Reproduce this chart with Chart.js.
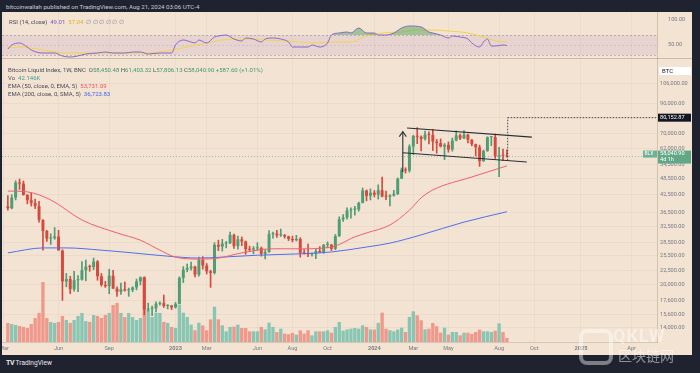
<!DOCTYPE html>
<html><head><meta charset="utf-8">
<script src="https://cdn.jsdelivr.net/npm/chart.js@4.4.1/dist/chart.umd.min.js"></script>
<style>
html,body{margin:0;padding:0;background:#1f2330;width:700px;height:373px;overflow:hidden;font-family:Roboto,"Liberation Sans",Arial,sans-serif}
#wrap{position:absolute;left:2px;top:12px;width:690px;height:343px;background:#f3e3d3}
#c{position:absolute;left:0;top:0;width:690px;height:343px}
.t{position:absolute;white-space:nowrap;font-size:6px;line-height:7px;color:#4a4d57}
.g{color:#3f9a6f}
</style></head><body>
<div class="t" style="left:6px;top:3px;color:#c9ccd6;font-size:6.1px">bitcoinwallah published on TradingView.com, Aug 21, 2024 03:06 UTC-4</div>
<div id="wrap">
<canvas id="c" width="690" height="343"></canvas>
<div class="t" id="rsiLeg" style="left:7px;top:5.5px"></div>
<div class="t" id="leg1" style="left:6px;top:53.5px"></div>
<div class="t" id="leg2" style="left:6px;top:61.8px"></div>
<div class="t" id="leg3" style="left:6px;top:69.5px"></div>
<div class="t" id="leg4" style="left:6px;top:77.8px"></div>
<div class="t" style="left:657px;top:55px;width:32px;height:8px;background:#fff;border-radius:1px;line-height:8px;text-indent:3px;color:#131722">BTC</div>
</div>
<div class="t" style="left:6px;top:359px;color:#e8e9ee;font-size:6.6px;line-height:8px"><b style="font-size:7px;letter-spacing:-0.5px">TV</b>&nbsp;TradingView</div>
<div style="position:absolute;left:579px;top:329px;width:26px;height:28px;border:4px solid rgba(255,255,255,0.42);border-radius:8px"></div>
<div class="t" style="left:613px;top:326px;font-size:18px;line-height:20px;font-weight:bold;color:rgba(255,255,255,0.42);letter-spacing:1px">QKLW</div>
<div class="t" style="left:618px;top:347px;font-size:14px;line-height:16px;font-family:'Noto Sans CJK SC';color:rgba(255,255,255,0.5)">区块链网</div>
<script>
// ---------- data ----------
const open = [38400,37800,41300,46800,46400,42200,40400,39500,38500,34300,31300,29400,29500,29900,26600,20600,21000,19300,20800,20900,22600,23300,23200,24300,21500,20000,19800,21600,19400,18900,19300,19100,19200,19600,20600,21300,16300,16400,16500,17100,17200,16800,16850,
16600,17100,21200,22700,23000,23300,21800,24600,23500,22400,22100,27900,27500,28200,28300,30300,27600,29200,28700,26900,26800,27100,27200,25900,26300,30500,30600,30200,30300,29900,29300,29000,29300,26100,26000,25800,25900,26500,26200,27900,27950,27000,30000,34500,35000,37100,37400,37450,39500,43800,41900,43000,
42300,43900,41700,41600,42000,42600,48300,52100,51700,63100,68900,68400,67200,69600,69400,65700,64900,63100,64000,61500,66300,69200,67500,69600,66700,64300,62700,55900,60800,68200,68300,58200,58700,58450.48];
const high = [42000,42300,47500,48200,47400,42400,42900,40800,40000,34400,31500,30600,32200,31500,26800,22000,21500,22400,21600,24300,24600,23600,25000,24500,22000,20600,22800,22600,19700,20300,20500,19500,19700,21000,21400,21400,17200,16800,17400,17400,18400,17000,16900,
17300,21400,23300,23800,24200,23400,25200,25300,23900,22600,28400,29000,29200,28700,31000,30500,30000,29800,28800,27600,27500,28400,27400,26800,31400,31000,31500,31800,30400,30000,30000,30200,29600,26800,28100,26100,26900,27500,28000,28600,28000,30400,35200,35900,37900,37900,38400,39800,44700,44000,44400,43800,
45900,49000,43600,42300,43900,48600,52800,52900,64000,69200,73800,68900,71700,71300,72800,66900,67200,64700,65500,67700,71900,70000,72000,70000,66900,64400,63800,61300,68400,68400,70000,62700,61800,61403.32];
const low = [37200,37600,40500,44200,42100,39200,38500,37700,33700,26700,28700,28000,29200,28600,17600,19700,18600,19000,18900,20800,20700,22400,22700,20800,19800,19600,18600,19400,18200,18500,19000,18200,18900,19200,20000,15600,16100,15500,16000,16900,16600,16400,16300,
16500,17100,20400,22300,22600,21400,21500,22800,21900,19600,21900,26600,26500,27200,28200,27100,26900,27700,25800,26400,25900,26600,25400,24800,26200,29500,29700,29900,29500,28900,28600,28800,25200,25800,25300,25400,24900,26100,26000,27200,26600,26800,29900,33900,34500,34800,35700,36900,39500,40200,40500,41500,
40800,41500,40600,38500,41800,42300,48300,50600,51000,59000,64600,60800,66500,64500,61000,59700,62800,56600,60200,60700,66100,66800,67400,65000,63400,58400,53500,55700,60600,63500,57100,49100,56100,57806.13];
const close = [37800,41300,46800,46400,42200,40400,39500,38500,34300,31300,29400,29500,29900,26600,20600,21000,19300,20800,20900,22600,23300,23200,24300,21500,20000,19800,21600,19400,18900,19300,19100,19200,19600,20600,21300,16300,16400,16500,17100,17200,16800,16850,16600,
17100,21200,22700,23000,23300,21800,24600,23500,22400,22100,27900,27500,28200,28300,30300,27600,29200,28700,26900,26800,27100,27200,25900,26300,30500,30600,30200,30300,29900,29300,29000,29300,26100,26000,25800,25900,26500,26200,27900,27950,27000,30000,34500,35000,37100,37400,37450,39500,43800,41900,43000,42300,
43900,41700,41600,42000,42600,48300,52100,51700,63100,68900,68400,67200,69600,69400,65700,64900,63100,64000,61500,66300,69200,67500,69600,66700,64300,62700,55900,60800,68200,68300,58200,58700,58450,58040.90];
// weekly volume, thousands
const volumeK = [200,189,179,168,158,147,189,252,305,630,252,210,200,210,273,231,200,231,273,305,220,210,283,273,252,283,305,388,410,305,262,305,262,231,252,683,336,262,305,305,210,200,
158,147,392,308,263,182,123,203,175,123,238,371,238,175,112,158,161,182,147,147,112,112,112,158,133,203,158,105,140,88,81,95,77,123,88,123,70,112,112,112,123,98,158,210,119,133,140,147,140,175,158,133,130,200,308,140,123,112,130,151,105,263,322,280,228,133,140,200,165,98,151,77,105,105,70,98,98,84,105,130,112,112,105,119,196,105,42.146];
// [week index, value]
const ema50Pts = [[1,43600],[6,43300],[12,40500],[20,34300],[29,30800],[35,29000],[40,26700],[44,25200],[50,24800],[55,25000],[61,26100],[69,27000],[76,27000],[84,27400],[90,29800],[93,30800],[99,32900],[104,37200],[107,41200],[110,44000],[120,49000],[129,53731.09]];
const ema200Pts = [[1,26100],[10,27200],[16,27200],[25,26700],[33,26100],[42,25400],[50,25000],[56,25200],[65,25600],[76,25900],[84,26300],[93,27400],[99,28300],[107,30300],[118,33700],[129,36723.83]];
const rsiPts = [[1,42],[2,50],[4,54],[6,46],[7,40],[10,34],[13,34],[15,28],[17,26],[20,30],[21,32],[24,34],[26,36],[28,34],[31,34],[33,36],[35,36],[37,32],[40,34],[43,34],[44,50],[46,60],[48,56],[49,54],[50,60],[52,54],[54,66],[55,68],[57,70],[59,62],[61,58],[62,64],[64,62],[66,56],[67,62],[69,64],[71,62],[73,56],[74,46],[76,46],[78,46],[79,50],[81,46],[83,54],[84,70],[86,74],[88,76],[89,74],[91,84],[93,74],[95,74],[96,70],[98,70],[100,74],[102,84],[104,88],[107,86],[109,76],[110,74],[112,70],[114,64],[115,68],[117,66],[119,62],[120,54],[122,46],[123,56],[124,62],[125,48],[126,48],[128,50],[129,49.01]];
const rsiMaPts = [[1,44],[4,46],[10,40],[16,34],[25,34],[33,34],[40,36],[43,40],[47,46],[52,54],[59,62],[67,60],[73,58],[76,56],[81,54],[84,56],[89,56],[93,68],[97,74],[102,76],[106,80],[110,80],[114,78],[119,74],[123,66],[128,56],[129,57.04]];
const priceTicks = [14000,15600,17600,20000,22500,25500,28500,32500,36500,42500,48500,54500,62000,70000,80000,90000,106000];
const rsiTicks = [50,100];
const rsiLevels = [70,50,30];
const xTickIdx = [0,14,27,44,52,65,74,83,95,105,114,127,136,148,161];
const xTickText = ['Mar','Jun','Sep','2023','Mar','Jun','Aug','Oct','2024','Mar','May','Aug','Oct','2025','Apr'];
const targetPrice = 80152.87;
const flagPole = {idx:102.3, from:51100, to:71400};
const channelTop = [[103.4,73600],[135.4,68200]];
const channelBottom = [[102.3,59900],[134.1,55500]];
const targetLine = {idx:129.2, from:56300};
const ema50Last = 53731.09, ema200Last = 36723.83, rsiLast = 49.01, rsiMaLast = 57.04, change = 587.60, changePct = 1.01;

// ---------- build ----------
const N = 168, FIRST = 1;
const weeks = [];
{ let t = Date.UTC(2022,1,28); for (let i=0;i<N;i++){ weeks.push(new Date(t).toISOString().slice(0,10)); t += 7*864e5; } }
const place = arr => { const o = new Array(N).fill(null); arr.forEach((v,i)=>{ o[FIRST+i]=v; }); return o; };
const sparse = pts => { const o = new Array(N).fill(null); pts.forEach(([i,v])=>{ o[i]=v; }); return o; };
const UP='#4e9d74', DOWN='#d64a3e', VUP='#88c6b3', VDOWN='#ef988b';
const isUp = open.map((o,i)=>close[i]>=o);
const labelMap = {}; xTickIdx.forEach((k,j)=>labelMap[k]=xTickText[j]);
const fmt = v => Number(v).toLocaleString('en-US',{minimumFractionDigits:2,maximumFractionDigits:2});
const FONT = 'Roboto, "Liberation Sans", Arial, sans-serif';
Chart.defaults.font.family = FONT;

const last = open.length-1;
document.getElementById('rsiLeg').innerHTML = 'RSI (14, close)&nbsp; <span style="color:#7e57c2">'+rsiLast.toFixed(2)+'</span>&nbsp; <span style="color:#d9b62a">'+rsiMaLast.toFixed(2)+'</span>&nbsp; <span style="color:#8a8d96">∅ ∅ ∅ ∅ ∅ ∅</span>';
document.getElementById('leg1').innerHTML = 'Bitcoin Liquid Index, 1W, BNC&nbsp; O<span class="g">'+fmt(open[last])+'</span> H<span class="g">'+fmt(high[last])+'</span> L<span class="g">'+fmt(low[last])+'</span> C<span class="g">'+fmt(close[last])+' +'+fmt(change)+' (+'+changePct.toFixed(2)+'%)</span>';
document.getElementById('leg2').innerHTML = 'Vo&nbsp; <span style="color:#3fa090">'+volumeK[last].toFixed(3)+'K</span>';
document.getElementById('leg3').innerHTML = 'EMA (50, close, 0, EMA, 5)&nbsp; <span style="color:#f0505c">'+fmt(ema50Last)+'</span>';
document.getElementById('leg4').innerHTML = 'EMA (200, close, 0, SMA, 5)&nbsp; <span style="color:#3f62ee">'+fmt(ema200Last)+'</span>';

const overlay = {
  id:'overlay',
  beforeDatasetsDraw(chart){
    const {ctx, chartArea:ca, scales:{x, rsi, price}} = chart;
    ctx.save();
    const y70 = rsi.getPixelForValue(rsiLevels[0]), y30 = rsi.getPixelForValue(rsiLevels[2]);
    ctx.fillStyle='rgba(126,87,194,0.10)';
    ctx.fillRect(ca.left, y70, ca.right-ca.left, y30-y70);
    ctx.strokeStyle='rgba(120,123,134,0.55)'; ctx.lineWidth=0.8; ctx.setLineDash([2,2]);
    rsiLevels.forEach((lv,k)=>{ const y=Math.round(rsi.getPixelForValue(lv))+0.5; ctx.globalAlpha = k===1?0.5:1; ctx.beginPath(); ctx.moveTo(ca.left,y); ctx.lineTo(ca.right,y); ctx.stroke(); });
    ctx.globalAlpha=1; ctx.setLineDash([]);
    ctx.strokeStyle='rgba(160,140,120,0.45)'; ctx.lineWidth=1;
    ctx.beginPath(); ctx.moveTo(0, Math.round(rsi.bottom)+0.5); ctx.lineTo(chart.width, Math.round(rsi.bottom)+0.5); ctx.stroke();
    const yl = price.getPixelForValue(close[last]);
    ctx.strokeStyle='rgba(78,157,116,0.55)'; ctx.setLineDash([1,2]);
    ctx.beginPath(); ctx.moveTo(ca.left,yl); ctx.lineTo(ca.right,yl); ctx.stroke();
    ctx.restore();
  },
  afterDatasetsDraw(chart){
    const {ctx, chartArea:ca, scales:{x, price}} = chart;
    const P = (i,v)=>[x.getPixelForValue(i), price.getPixelForValue(v)];
    ctx.save();
    ctx.strokeStyle='#2a2e39'; ctx.lineWidth=1.1;
    const seg=(a,b)=>{ctx.beginPath(); ctx.moveTo(a[0],a[1]); ctx.lineTo(b[0],b[1]); ctx.stroke();};
    seg(P(channelTop[0][0],channelTop[0][1]), P(channelTop[1][0],channelTop[1][1]));
    seg(P(channelBottom[0][0],channelBottom[0][1]), P(channelBottom[1][0],channelBottom[1][1]));
    const pb = P(flagPole.idx, flagPole.from), pt = P(flagPole.idx, flagPole.to);
    seg(pb, pt);
    ctx.beginPath(); ctx.moveTo(pt[0]-3.5, pt[1]+5); ctx.lineTo(pt[0], pt[1]); ctx.lineTo(pt[0]+3.5, pt[1]+5); ctx.stroke();
    const tb = P(targetLine.idx, targetLine.from), tt = P(targetLine.idx, targetPrice);
    ctx.strokeStyle='#30333c'; ctx.lineWidth=0.9; ctx.setLineDash([1.5,1.5]);
    seg(tb, tt); seg(tt, [ca.right, tt[1]]);
    ctx.restore();
  },
  afterDraw(chart){
    const {ctx, chartArea:ca, scales:{price}} = chart;
    ctx.save();
    ctx.font = '5.6px '+FONT; ctx.textBaseline='middle';
    const yt = price.getPixelForValue(targetPrice);
    ctx.fillStyle='#131722'; ctx.fillRect(ca.right+1, yt-4, 33, 8);
    ctx.fillStyle='#ffffff'; ctx.fillText(fmt(targetPrice), ca.right+3, yt+0.3);
    const yl = price.getPixelForValue(close[last]);
    ctx.fillStyle='#62a887'; ctx.fillRect(ca.right+1, yl-6, 33, 13);
    ctx.fillStyle='#6fb093'; ctx.fillRect(ca.right-14, yl-6, 14, 7);
    ctx.fillStyle='#ffffff';
    ctx.fillText(fmt(close[last]), ca.right+3, yl-2.5);
    ctx.fillText('4d 1h', ca.right+3, yl+3.5);
    ctx.font = '5px '+FONT; ctx.fillText('BLX', ca.right-12.5, yl-2.5);
    ctx.restore();
  }
};

new Chart(document.getElementById('c'), {
  type:'bar',
  data:{
    labels: weeks,
    datasets:[
      {type:'line', label:'RSI', data:sparse(rsiPts), yAxisID:'rsi', borderColor:'#8a68c8', borderWidth:1, pointRadius:0, spanGaps:true, cubicInterpolationMode:'monotone', order:1,
       fill:{target:{value:70}, above:'rgba(92,170,98,0.55)', below:'rgba(0,0,0,0)'}},
      {type:'line', label:'RSI MA', data:sparse(rsiMaPts), yAxisID:'rsi', borderColor:'#f2d24b', borderWidth:1, pointRadius:0, spanGaps:true, cubicInterpolationMode:'monotone', fill:false, order:1},
      {type:'line', label:'EMA 50', data:sparse(ema50Pts), yAxisID:'price', borderColor:'#f0606b', borderWidth:1, pointRadius:0, spanGaps:true, cubicInterpolationMode:'monotone', fill:false, order:1},
      {type:'line', label:'EMA 200', data:sparse(ema200Pts), yAxisID:'price', borderColor:'#4f6ff0', borderWidth:1, pointRadius:0, spanGaps:true, cubicInterpolationMode:'monotone', fill:false, order:1},
      {label:'wick', data:place(low.map((l,i)=>[l,high[i]])), yAxisID:'price', backgroundColor:place(isUp.map(u=>u?UP:DOWN)), barThickness:1, grouped:false, order:3},
      {label:'body', data:place(open.map((o,i)=>[o,close[i]])), yAxisID:'price', backgroundColor:place(isUp.map(u=>u?UP:DOWN)), barPercentage:0.76, categoryPercentage:1, minBarLength:1, grouped:false, order:2},
      {label:'volume', data:place(volumeK), yAxisID:'vol', backgroundColor:place(isUp.map(u=>u?VUP:VDOWN)), barPercentage:0.86, categoryPercentage:1, grouped:false, order:10}
    ]
  },
  options:{
    responsive:false, animation:false, devicePixelRatio:1,
    layout:{padding:0},
    plugins:{legend:{display:false}, tooltip:{enabled:false}},
    scales:{
      x:{type:'category', offset:true,
         grid:{offset:false, drawTicks:false, lineWidth:1, color:c=> (labelMap[c.index]!==undefined)?'rgba(150,130,110,0.07)':'rgba(0,0,0,0)'},
         border:{display:true, color:'rgba(150,130,110,0.3)'},
         ticks:{autoSkip:false, maxRotation:0, minRotation:0, padding:3, color:'#787b86',
                font:c=>({family:FONT, size:5.6, weight: /^\d{4}$/.test(labelMap[c.index]||'')?'bold':'normal'}),
                callback:(v,i)=> labelMap[i]!==undefined ? labelMap[i] : ''},
         afterFit(s){ s.height=13; s.paddingLeft=0; s.paddingRight=0; }},
      rsi:{type:'linear', position:'right', stack:'panes', stackWeight:46, min:24, max:116,
         grid:{display:false}, border:{display:true, color:'rgba(150,130,110,0.35)'},
         afterBuildTicks(s){ s.ticks = rsiTicks.map(v=>({value:v})); },
         ticks:{padding:3, color:'#787b86', font:{size:5.6}, callback:v=>fmt(v)},
         afterFit(s){ s.width=35; s.paddingTop=0; s.paddingBottom=0; }},
      price:{type:'logarithmic', position:'right', stack:'panes', stackWeight:284, min:12459, max:131520,
         grid:{drawTicks:false, color:'rgba(150,130,110,0.08)'}, border:{display:true, color:'rgba(150,130,110,0.35)'},
         afterBuildTicks(s){ s.ticks = priceTicks.map(v=>({value:v})); },
         ticks:{autoSkip:false, padding:3, color:'#787b86', font:{size:5.6}, callback:v=>fmt(v)},
         afterFit(s){ s.width=35; s.paddingTop=0; s.paddingBottom=0; }},
      vol:{type:'linear', display:false, position:'left', min:0, max:3465}
    }
  },
  plugins:[overlay]
});
</script>
</body></html>
